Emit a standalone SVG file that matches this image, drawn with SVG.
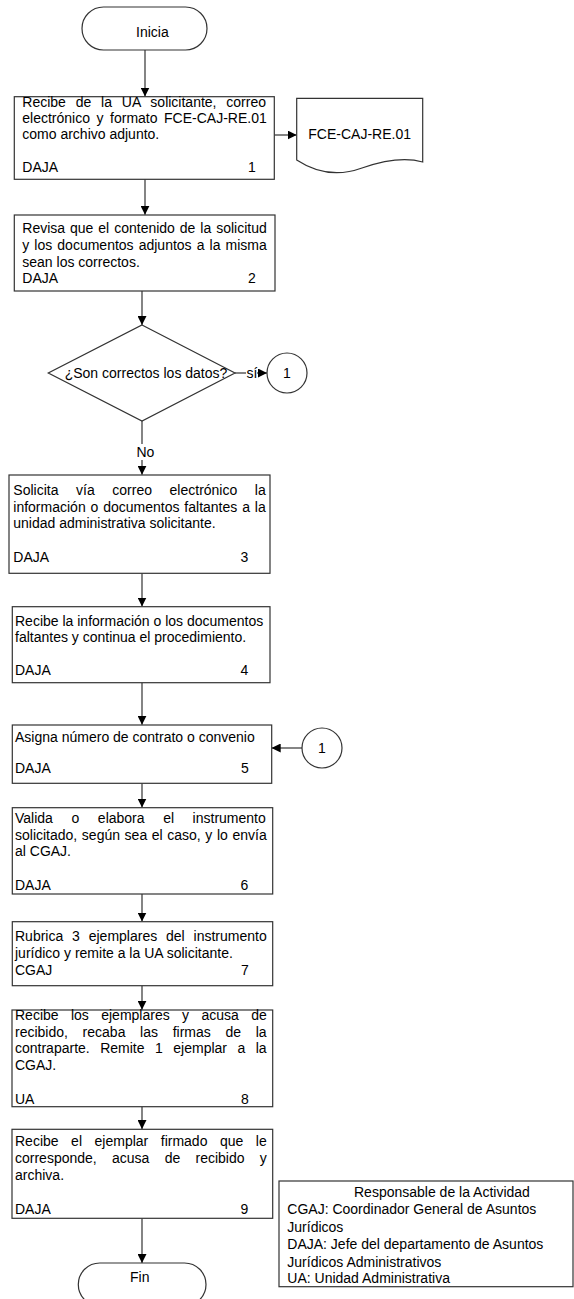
<svg xmlns="http://www.w3.org/2000/svg" width="574" height="1299" viewBox="0 0 574 1299">
<defs>
<style>
text{font-family:"Liberation Sans",Arial,sans-serif;font-size:14px;fill:#000}
.box{fill:#fff;stroke:#333;stroke-width:1.2}
.ln{fill:none;stroke:#333;stroke-width:1.2}
.mid{text-anchor:middle}
</style>
<marker id="ah" viewBox="0 0 10 10" refX="10" refY="5" markerWidth="9" markerHeight="9" markerUnits="userSpaceOnUse" orient="auto">
<path d="M0,0 L10,5 L0,10 z" fill="#000"/>
</marker>
</defs>
<rect width="574" height="1299" fill="#fff"/>

<g id="connectors">
<line class="ln" x1="145" y1="50" x2="145" y2="96.5" marker-end="url(#ah)"/>
<line class="ln" x1="274.3" y1="135" x2="296.7" y2="135" marker-end="url(#ah)"/>
<line class="ln" x1="145" y1="179.3" x2="145" y2="214.8" marker-end="url(#ah)"/>
<line class="ln" x1="142" y1="291" x2="142" y2="325" marker-end="url(#ah)"/>
<line class="ln" x1="235" y1="373" x2="267" y2="373" marker-end="url(#ah)"/>
<rect x="246" y="366" width="11" height="14" fill="#fff"/>
<text x="246.5" y="378">sí</text>
<line class="ln" x1="142" y1="421" x2="142" y2="474.8" marker-end="url(#ah)"/>
<rect x="136" y="444" width="18" height="16" fill="#fff"/>
<text x="136.5" y="457">No</text>
<line class="ln" x1="142" y1="573.3" x2="142" y2="606.5" marker-end="url(#ah)"/>
<line class="ln" x1="142" y1="682.7" x2="142" y2="724.8" marker-end="url(#ah)"/>
<line class="ln" x1="302" y1="748" x2="271.7" y2="748" marker-end="url(#ah)"/>
<line class="ln" x1="142" y1="783.3" x2="142" y2="807.5" marker-end="url(#ah)"/>
<line class="ln" x1="142" y1="894" x2="142" y2="921.5" marker-end="url(#ah)"/>
<line class="ln" x1="142" y1="985.7" x2="142" y2="1009.8" marker-end="url(#ah)"/>
<line class="ln" x1="142" y1="1106.7" x2="142" y2="1129.1" marker-end="url(#ah)"/>
<line class="ln" x1="142" y1="1218.3" x2="142" y2="1263" marker-end="url(#ah)"/>
</g>

<g id="inicia">
<rect class="box" x="82" y="7" width="125" height="43" rx="21.5" ry="21.5"/>
<text x="136" y="37">Inicia</text>
</g>

<g id="paso1">
<rect class="box" x="14.3" y="96.7" width="260" height="82.6"/>
<text x="22.3" y="107" word-spacing="5.94">Recibe de la UA solicitante, correo</text>
<text x="22.3" y="123" word-spacing="2.63">electrónico y formato FCE-CAJ-RE.01</text>
<text x="22.3" y="139">como archivo adjunto.</text>
<text x="22.3" y="172">DAJA</text>
<text x="248" y="172">1</text>
</g>

<g id="documento">
<path class="box" d="M296.7,98.3 H422.7 V162 C405,157 385,160 362,168 C340,176 318,174 296.7,160 Z"/>
<text x="308.3" y="138.5">FCE-CAJ-RE.01</text>
</g>

<g id="paso2">
<rect class="box" x="14.3" y="215" width="260.7" height="76"/>
<text x="22.3" y="233" word-spacing="1.05">Revisa que el contenido de la solicitud</text>
<text x="22.3" y="250" word-spacing="1.18">y los documentos adjuntos a la misma</text>
<text x="22.3" y="267">sean los correctos.</text>
<text x="22.3" y="283">DAJA</text>
<text x="248" y="283">2</text>
</g>

<g id="decision">
<polygon class="box" points="142,325 235,373 142,421 48.3,373"/>
<text class="mid" x="146" y="378">¿Son correctos los datos?</text>
</g>

<g id="conector1a">
<circle class="box" cx="287" cy="373" r="20"/>
<text class="mid" x="287" y="378">1</text>
</g>

<g id="paso3">
<rect class="box" x="9" y="475" width="261" height="98.3"/>
<text x="13.3" y="495" word-spacing="13.7">Solicita vía correo electrónico la</text>
<text x="13.3" y="511.5" word-spacing="0.99">información o documentos faltantes a la</text>
<text x="13.3" y="528">unidad administrativa solicitante.</text>
<text x="13.3" y="561.5">DAJA</text>
<text x="240.5" y="561.5">3</text>
</g>

<g id="paso4">
<rect class="box" x="12.3" y="606.7" width="257.7" height="76"/>
<text x="15" y="625.5">Recibe la información o los documentos</text>
<text x="15" y="642">faltantes y continua el procedimiento.</text>
<text x="15" y="675">DAJA</text>
<text x="240.5" y="675">4</text>
</g>

<g id="paso5">
<rect class="box" x="12.3" y="725" width="259.4" height="58.3"/>
<text x="15" y="741.5">Asigna número de contrato o convenio</text>
<text x="15" y="773">DAJA</text>
<text x="241" y="773">5</text>
</g>

<g id="conector1b">
<circle class="box" cx="322" cy="748" r="20"/>
<text class="mid" x="322" y="753">1</text>
</g>

<g id="paso6">
<rect class="box" x="12.3" y="807.7" width="260.4" height="86.3"/>
<text x="15" y="822.7" word-spacing="14.7">Valida o elabora el instrumento</text>
<text x="15" y="839.5" word-spacing="0.71">solicitado, según sea el caso, y lo envía</text>
<text x="15" y="856">al CGAJ.</text>
<text x="15" y="889.5">DAJA</text>
<text x="240.5" y="889.5">6</text>
</g>

<g id="paso7">
<rect class="box" x="12.3" y="921.7" width="260.4" height="64"/>
<text x="15" y="941" word-spacing="4.95">Rubrica 3 ejemplares del instrumento</text>
<text x="15" y="958">jurídico y remite a la UA solicitante.</text>
<text x="15" y="975">CGAJ</text>
<text x="241" y="975">7</text>
</g>

<g id="paso8">
<rect class="box" x="12" y="1010" width="260.7" height="96.7"/>
<text x="15" y="1020" word-spacing="8.48">Recibe los ejemplares y acusa de</text>
<text x="15" y="1036.7" word-spacing="10.8">recibido, recaba las firmas de la</text>
<text x="15" y="1053.3" word-spacing="6.6">contraparte. Remite 1 ejemplar a la</text>
<text x="15" y="1070">CGAJ.</text>
<text x="15" y="1104">UA</text>
<text x="241" y="1104">8</text>
</g>

<g id="paso9">
<rect class="box" x="12" y="1129.3" width="260.7" height="89"/>
<text x="15" y="1145.5" word-spacing="8.64">Recibe el ejemplar firmado que le</text>
<text x="15" y="1163" word-spacing="11.4">corresponde, acusa de recibido y</text>
<text x="15" y="1180">archiva.</text>
<text x="15" y="1213.5">DAJA</text>
<text x="240.5" y="1213.5">9</text>
</g>

<g id="fin">
<rect class="box" x="78.3" y="1263" width="127.7" height="43" rx="21.5" ry="21.5"/>
<text x="130" y="1282">Fin</text>
</g>

<g id="leyenda">
<rect class="box" x="279" y="1181" width="294" height="105.7"/>
<text x="354" y="1196.7">Responsable de la Actividad</text>
<text x="287.3" y="1214.3">CGAJ: Coordinador General de Asuntos</text>
<text x="287.3" y="1231.7">Jurídicos</text>
<text x="287.3" y="1249">DAJA: Jefe del departamento de Asuntos</text>
<text x="287.3" y="1266.5">Jurídicos Administrativos</text>
<text x="287.3" y="1283">UA: Unidad Administrativa</text>
</g>
</svg>
